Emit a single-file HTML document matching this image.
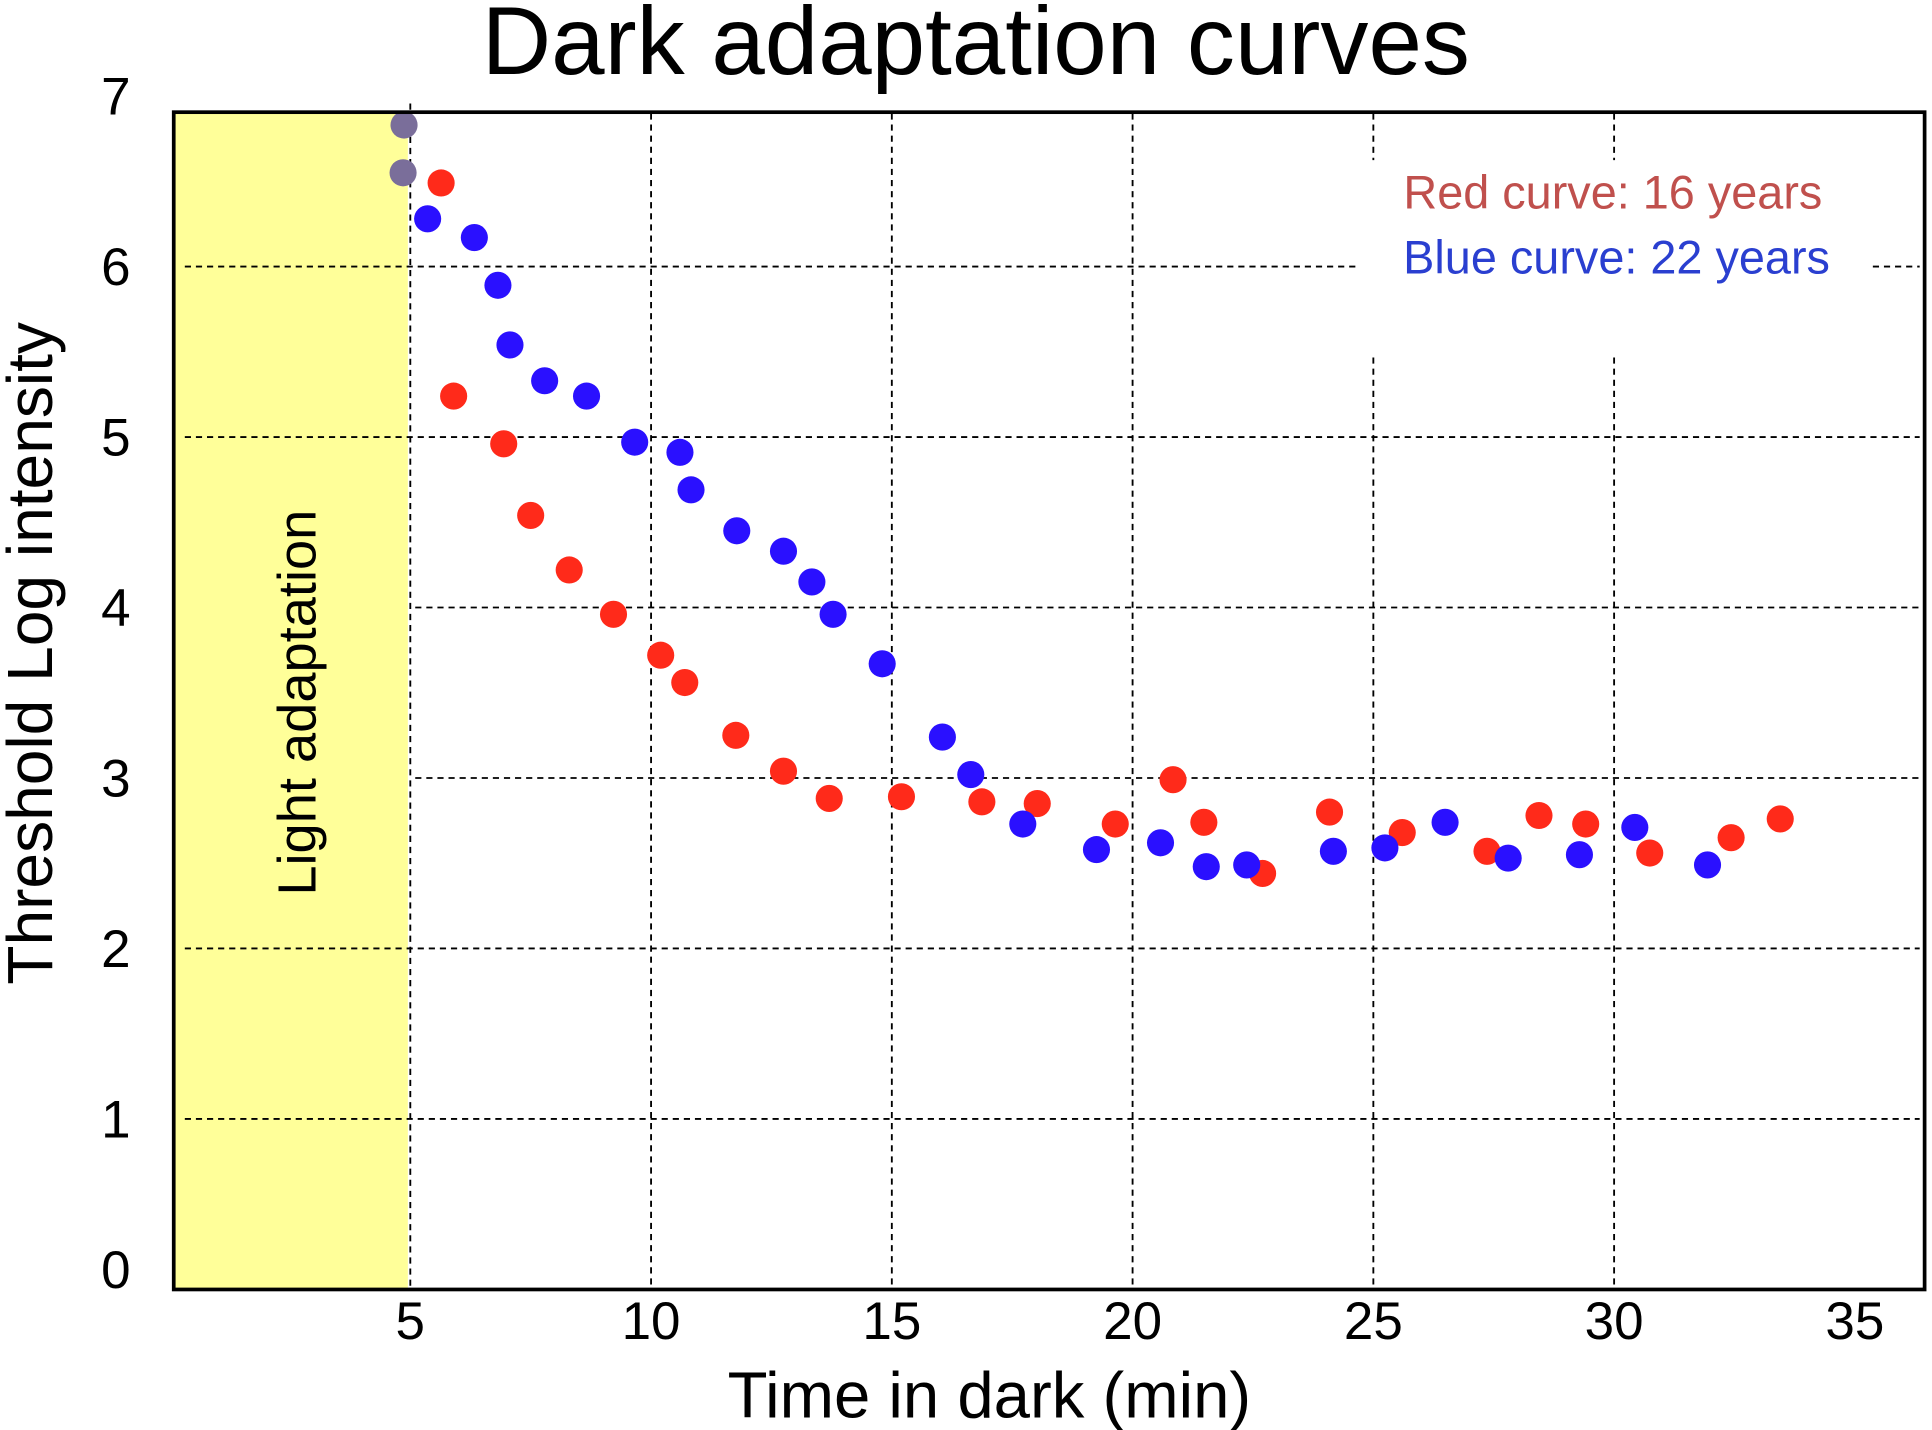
<!DOCTYPE html>
<html>
<head>
<meta charset="utf-8">
<style>
html,body{margin:0;padding:0;background:#fff;}
svg{display:block;font-family:"Liberation Sans",sans-serif;}
</style>
</head>
<body>
<svg id="chart" width="1932" height="1430" viewBox="0 0 1568 1160" preserveAspectRatio="none" xmlns="http://www.w3.org/2000/svg">
  <rect x="0" y="0" width="1568" height="1160" fill="#fff"/>
  <rect x="142" y="92" width="189" height="953" fill="#ffff99"/>
  <g id="grid"></g>
  <g id="marks"></g>
  <rect x="141" y="91" width="1421" height="955" fill="none" stroke="#000" stroke-width="3"/>
  <g id="ticks"></g>
  <text x="792" y="60" font-size="78" text-anchor="middle" fill="#000">Dark adaptation curves</text>
  <text x="803" y="1150" font-size="53" text-anchor="middle" fill="#000">Time in dark (min)</text>
  <text transform="translate(42,530) rotate(-90)" font-size="52" text-anchor="middle" fill="#000">Threshold Log intensity</text>
  <text transform="translate(256,570) rotate(-90)" font-size="44" text-anchor="middle" fill="#000">Light adaptation</text>
  <rect x="1105" y="130" width="410" height="160" fill="#fff"/>
  <text x="1309" y="169" font-size="38" text-anchor="middle" fill="#c0504d">Red curve: 16 years</text>
  <text x="1312" y="222" font-size="38" text-anchor="middle" fill="#2a3fd0">Blue curve: 22 years</text>
</svg>
<script>
const xTicks = [5, 10, 15, 20, 25, 30, 35];
const yTicks = [0, 1, 2, 3, 4, 5, 6, 7];
const redX = [5.64,5.9,6.94,7.5,8.3,9.22,10.2,10.7,11.76,12.75,13.7,15.2,16.87,18.02,19.64,20.84,21.48,22.7,24.09,25.6,27.36,28.44,29.41,30.74,32.43,33.45];
const redY = [6.49,5.24,4.96,4.54,4.22,3.96,3.72,3.56,3.25,3.04,2.88,2.89,2.86,2.85,2.73,2.99,2.74,2.44,2.80,2.68,2.57,2.78,2.73,2.56,2.65,2.76];
const blueX = [4.87,4.85,5.36,6.33,6.82,7.07,7.79,8.66,9.66,10.6,10.83,11.78,12.75,13.34,13.78,14.8,16.05,16.64,17.72,19.25,20.58,21.53,22.37,24.17,25.24,26.49,27.8,29.28,30.43,31.94];
const blueY = [6.83,6.55,6.28,6.17,5.89,5.54,5.33,5.24,4.97,4.91,4.69,4.45,4.33,4.15,3.96,3.67,3.24,3.02,2.73,2.58,2.62,2.48,2.49,2.57,2.59,2.74,2.53,2.55,2.71,2.49];

const NS = "http://www.w3.org/2000/svg";
function sx(v){ return 333 + (v - 5) * 39.08; }
function sy(v){ return 1046 - v * 138.3; }

const grid = document.getElementById('grid');
const marks = document.getElementById('marks');
const ticks = document.getElementById('ticks');

function line(x1,y1,x2,y2,name){
  const l = document.createElementNS(NS,'line');
  l.setAttribute('x1',x1);l.setAttribute('y1',y1);l.setAttribute('x2',x2);l.setAttribute('y2',y2);
  l.setAttribute('stroke','#000');l.setAttribute('stroke-width','1.5');l.setAttribute('stroke-dasharray','5,4');
  
  
  grid.appendChild(l);
}
[1,2,3,4,5,6].forEach(v=>{
  const y = sy(v);
  const start = (v===3||v===4) ? 337 : 150;
  if (v===6){
    line(start,y,1100,y,'gridline-y-'+v);
    line(1520,y,1558,y,'gridline-y-'+v+'-end');
  } else {
    line(start,y,1558,y,'gridline-y-'+v);
  }
});
[5,10,15,20,25,30].forEach(v=>{
  const x = sx(v);
  if (v===25||v===30){
    line(x,92,x,130,'gridline-x-'+v+'-top');
    line(x,290,x,1044,'gridline-x-'+v);
  } else {
    line(x, v===5?84:92, x, 1044, 'gridline-x-'+v);
  }
});
xTicks.forEach(v=>{
  const t = document.createElementNS(NS,'text');
  t.setAttribute('x', sx(v)); t.setAttribute('y', 1086);
  t.setAttribute('font-size','43'); t.setAttribute('text-anchor','middle');
  t.textContent = v;
  
  
  ticks.appendChild(t);
});
yTicks.forEach(v=>{
  const t = document.createElementNS(NS,'text');
  t.setAttribute('x', 94); t.setAttribute('y', Math.min(sy(v), 1030) + 15);
  t.setAttribute('font-size','43'); t.setAttribute('text-anchor','middle');
  t.textContent = v;
  
  
  ticks.appendChild(t);
});
function dot(x,y,fill,name){
  const c = document.createElementNS(NS,'circle');
  c.setAttribute('cx', sx(x)); c.setAttribute('cy', sy(y)); c.setAttribute('r', 11);
  c.setAttribute('fill', fill);
  
  
  marks.appendChild(c);
}
redX.forEach((x,i)=>dot(x, redY[i], '#ff2a1a', 'red-point'));
blueX.forEach((x,i)=>dot(x, blueY[i], x < 5 ? '#7a6e9a' : '#2a10ff', 'blue-point'));
</script>
</body>
</html>
